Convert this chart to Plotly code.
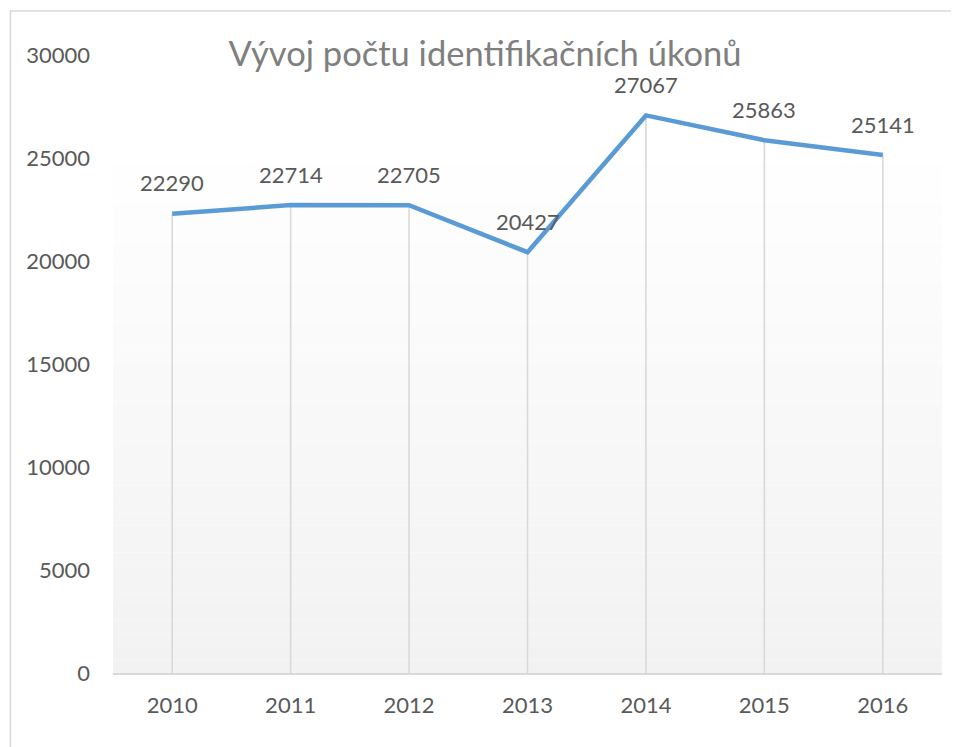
import plotly.graph_objects as go

# Chart data
years = ["2010", "2011", "2012", "2013", "2014", "2015", "2016"]
counts = [22290, 22714, 22705, 20427, 27067, 25863, 25141]
y_ticks = [0, 5000, 10000, 15000, 20000, 25000, 30000]

title_text = "Vývoj počtu identifikačních úkonů"

FONT = "Lato, Open Sans, sans-serif"
LABEL_GREY = "#595959"
GRID_GREY = "#d9d9d9"

fig = go.Figure()

# Drop lines from each point down to the axis
fig.add_trace(go.Scatter(
    x=years, y=counts, mode="markers",
    marker=dict(size=0.1, opacity=0),
    error_y=dict(type="data", symmetric=False, array=[0] * len(counts),
                 arrayminus=counts, color=GRID_GREY, thickness=1.6, width=0),
    hoverinfo="skip", showlegend=False,
))

# Main line
fig.add_trace(go.Scatter(
    x=years, y=counts, mode="lines",
    line=dict(color="#5b9bd5", width=4.5),
    showlegend=False,
))

# Data labels above the points (x given as category index)
for i, val in enumerate(counts):
    fig.add_annotation(x=i, y=val, text=str(val), showarrow=False,
                       yshift=31, yanchor="middle",
                       font=dict(family=FONT, size=22, color=LABEL_GREY))

# Plot area gradient (white to light grey), drawn as thin strips
top = 0.867
n = 40
for i in range(n):
    t = i / (n - 1)
    c = int(round(255 - (255 - 242) * (1 - t)))
    fig.add_shape(type="rect", xref="paper", yref="paper",
                  x0=0, x1=1, y0=top * i / n, y1=top * (i + 1) / n,
                  fillcolor=f"rgb({c},{c},{c})", line=dict(width=0),
                  layer="below")

# Chart border
fig.add_shape(type="rect", xref="paper", yref="paper",
              x0=-0.1237, x1=1.2, y0=-0.3, y1=1.0712,
              line=dict(color=GRID_GREY, width=1.5), fillcolor="rgba(0,0,0,0)",
              layer="below")

# page has an 8px body margin, so the figure is shrunk by that
fig.update_layout(
    width=951, height=739,
    margin=dict(l=105, r=17, t=47, b=74),
    paper_bgcolor="white", plot_bgcolor="white",
    title=dict(text=title_text, x=477 / 951, xanchor="center",
               xref="container", y=1 - 46 / 739, yanchor="middle",
               yref="container",
               font=dict(family=FONT, size=34.5, color="#7f7f7f")),
    xaxis=dict(type="category", range=[-0.5, 6.5], showgrid=False,
               showline=True, linecolor=GRID_GREY, linewidth=1.5,
               ticks="", ticklabelstandoff=12, zeroline=False,
               tickfont=dict(family=FONT, size=22, color=LABEL_GREY)),
    yaxis=dict(range=[0, 30000], tickvals=y_ticks, tickformat="d",
               showgrid=False, showline=False, zeroline=False, ticks="",
               ticklabelstandoff=22,
               tickfont=dict(family=FONT, size=22, color=LABEL_GREY)),
)

fig.write_html("out.html")
